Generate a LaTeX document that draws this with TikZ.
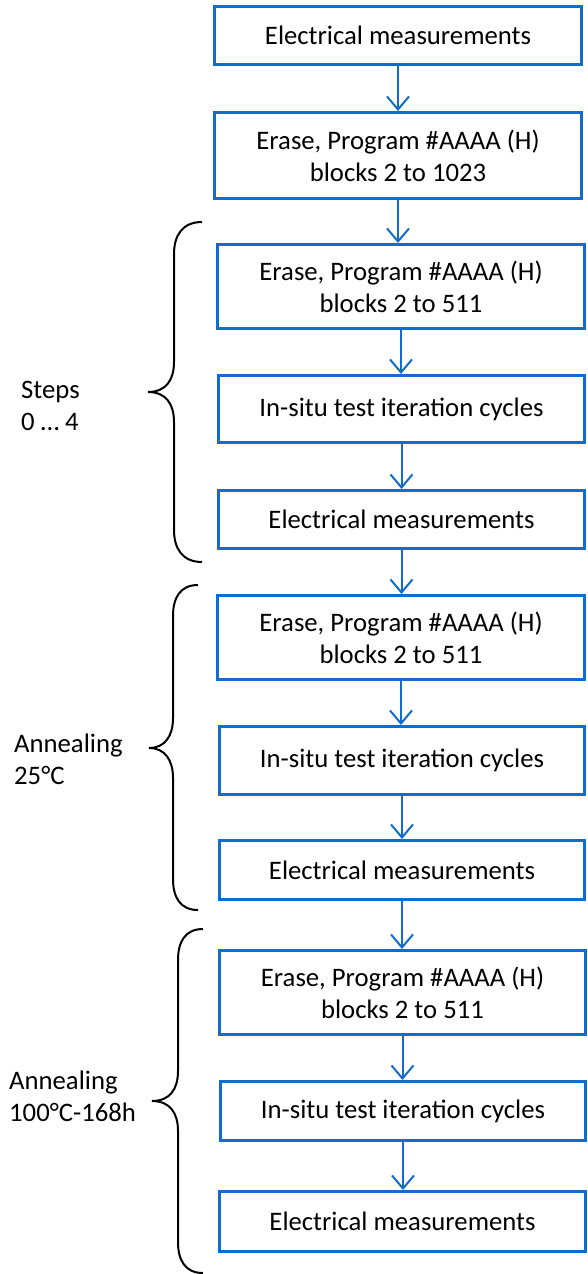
\documentclass[tikz,border=0pt]{standalone}
\usepackage{fontspec}
\setmainfont{Carlito}
\usetikzlibrary{arrows.meta}
\definecolor{boxblue}{RGB}{18,108,206}
\tikzset{
  x=1pt, y=-1pt,
  stepbox/.style={draw=boxblue, line width=3pt, fill=white, inner sep=0pt,
    align=center, font=\fontsize{26.7}{32}\selectfont},
  arr/.style={draw=boxblue, line width=2pt,
    -{Straight Barb[length=13pt,width=22pt,line width=2pt]}},
  brace/.style={draw=black, line width=2pt},
  lbl/.style={anchor=base west, inner sep=0pt, align=left,
    font=\fontsize{26.7}{32}\selectfont}
}
\begin{document}
\begin{tikzpicture}
\useasboundingbox (0,0) rectangle (588,1274);
% boxes
\node[stepbox, minimum width=367pt, minimum height=58pt] (b1) at (398,35.5) {Electrical measurements};
\node[stepbox, minimum width=367pt, minimum height=86pt] (b2) at (398,155.5) {Erase, Program \#AAAA (H)\\blocks 2 to 1023};
\node[stepbox, minimum width=367pt, minimum height=84pt] (b3) at (401,286.5) {Erase, Program \#AAAA (H)\\blocks 2 to 511};
\node[stepbox, minimum width=366pt, minimum height=67pt] (b4) at (401.5,409) {In-situ test iteration cycles};
\node[stepbox, minimum width=366pt, minimum height=58pt] (b5) at (401.5,519.5) {Electrical measurements};
\node[stepbox, minimum width=367pt, minimum height=84pt] (b6) at (401,637.5) {Erase, Program \#AAAA (H)\\blocks 2 to 511};
\node[stepbox, minimum width=365pt, minimum height=68pt] (b7) at (402,760.5) {In-situ test iteration cycles};
\node[stepbox, minimum width=365pt, minimum height=59pt] (b8) at (402,870) {Electrical measurements};
\node[stepbox, minimum width=366pt, minimum height=84pt] (b9) at (402.5,992.5) {Erase, Program \#AAAA (H)\\blocks 2 to 511};
\node[stepbox, minimum width=365pt, minimum height=59pt] (b10) at (403,1111) {In-situ test iteration cycles};
\node[stepbox, minimum width=366pt, minimum height=60pt] (b11) at (402.5,1221.5) {Electrical measurements};
% arrows
\draw[arr] (b1.south) -- (b1.south |- b2.north);
\draw[arr] (b2.south) -- (b2.south |- b3.north);
\draw[arr] (b3.south) -- (b3.south |- b4.north);
\draw[arr] (b4.south) -- (b4.south |- b5.north);
\draw[arr] (b5.south) -- (b5.south |- b6.north);
\draw[arr] (b6.south) -- (b6.south |- b7.north);
\draw[arr] (b7.south) -- (b7.south |- b8.north);
\draw[arr] (b8.south) -- (b8.south |- b9.north);
\draw[arr] (b9.south) -- (b9.south |- b10.north);
\draw[arr] (b10.south) -- (b10.south |- b11.north);
% braces
\draw[brace] (202,222) .. controls (182,222) and (174,236) .. (174,254)
  -- (174,362) .. controls (174,380) and (166,392) .. (148,392)
  .. controls (166,392) and (174,404) .. (174,422)
  -- (174,530) .. controls (174,548) and (182,562) .. (202,562);
\draw[brace] (198,585) .. controls (180,585) and (173,598) .. (173,616)
  -- (173,718) .. controls (173,736) and (165,748) .. (149,748)
  .. controls (165,748) and (173,760) .. (173,778)
  -- (173,879) .. controls (173,897) and (180,910) .. (198,910);
\draw[brace] (203,929) .. controls (185,929) and (178,942) .. (178,960)
  -- (178,1071) .. controls (178,1089) and (170,1101) .. (152,1101)
  .. controls (170,1101) and (178,1113) .. (178,1131)
  -- (178,1242) .. controls (178,1260) and (185,1273) .. (203,1273);
% labels (anchor: baseline of last line)
\node[lbl] (l1) at (21,430) {Steps\\0 … 4};
\node[lbl] (l2) at (14,784) {Annealing\\25°C};
\node[lbl] (l3) at (9,1121) {Annealing\\100°C-168h};
\end{tikzpicture}
\end{document}
